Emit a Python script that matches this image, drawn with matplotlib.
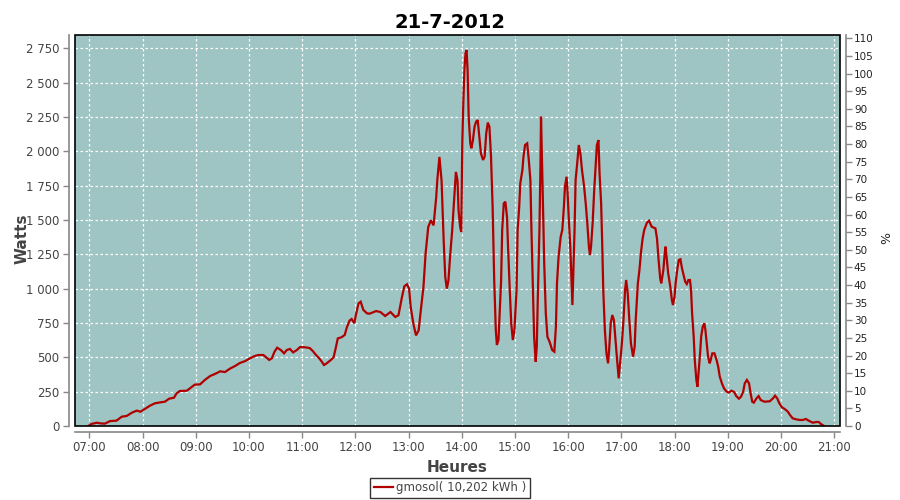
import matplotlib
matplotlib.use("Agg")
import matplotlib.pyplot as plt
from matplotlib.ticker import FuncFormatter
from matplotlib.patches import Rectangle

title = "21-7-2012"
series_name = "gmosol( 10,202 kWh )"

# time in decimal hours, power in Watts
hours = [
    6.98, 7.04, 7.14, 7.21, 7.29, 7.39, 7.51, 7.61, 7.70, 7.80, 7.89, 7.96,
    8.05, 8.14, 8.23, 8.33, 8.42, 8.50, 8.59, 8.64, 8.70, 8.83, 8.89, 8.98,
    9.08, 9.17, 9.27, 9.36, 9.46, 9.55, 9.64, 9.74, 9.83, 9.93,
    10.02, 10.11, 10.18, 10.27, 10.33, 10.38, 10.43, 10.48, 10.53, 10.60,
    10.66, 10.71, 10.77, 10.83, 10.90, 10.96,
    11.05, 11.14, 11.20, 11.26, 11.32, 11.37, 11.41, 11.46, 11.54, 11.59,
    11.63, 11.67, 11.74, 11.80, 11.84, 11.89, 11.93, 11.98,
    12.01, 12.06, 12.10, 12.15, 12.22, 12.27, 12.39, 12.47, 12.56, 12.66,
    12.75, 12.81, 12.87, 12.92, 12.97,
    13.01, 13.04, 13.09, 13.14, 13.19, 13.23, 13.28, 13.32, 13.37, 13.42,
    13.47, 13.52, 13.54, 13.58, 13.62, 13.66, 13.69, 13.72, 13.75, 13.78,
    13.82, 13.86, 13.89, 13.92, 13.94, 13.97, 13.99,
    14.01, 14.03, 14.05, 14.07, 14.09, 14.11, 14.13, 14.16, 14.18, 14.21,
    14.24, 14.27, 14.30, 14.33, 14.36, 14.40, 14.43, 14.46, 14.49, 14.52,
    14.55, 14.58, 14.61, 14.64, 14.66, 14.69, 14.71, 14.74, 14.76, 14.79,
    14.82, 14.85, 14.87, 14.90, 14.93, 14.96, 14.99,
    15.03, 15.05, 15.08, 15.10, 15.14, 15.16, 15.19, 15.23, 15.26, 15.29,
    15.31, 15.34, 15.36, 15.39, 15.41, 15.43, 15.46, 15.48, 15.49, 15.51,
    15.53, 15.55, 15.58, 15.61, 15.65, 15.70, 15.74, 15.77, 15.79, 15.82,
    15.86, 15.89, 15.92, 15.94, 15.97, 15.99,
    16.01, 16.04, 16.06, 16.08, 16.09, 16.12, 16.14, 16.17, 16.20, 16.23,
    16.26, 16.30, 16.33, 16.36, 16.39, 16.41, 16.43, 16.46, 16.49, 16.52,
    16.54, 16.57, 16.59, 16.62, 16.64, 16.66, 16.69, 16.72, 16.75, 16.77,
    16.80, 16.83, 16.86, 16.89, 16.92, 16.95, 16.97,
    17.01, 17.04, 17.07, 17.09, 17.12, 17.15, 17.18, 17.22, 17.25, 17.27,
    17.31, 17.34, 17.37, 17.40, 17.43, 17.48, 17.52, 17.57, 17.64, 17.67,
    17.70, 17.73, 17.75, 17.79, 17.81, 17.83, 17.85, 17.88, 17.92, 17.95,
    17.97,
    18.00, 18.02, 18.05, 18.08, 18.11, 18.14, 18.17, 18.20, 18.23, 18.26,
    18.29, 18.31, 18.33, 18.36, 18.38, 18.41, 18.43, 18.45, 18.48, 18.50,
    18.53, 18.56, 18.58, 18.61, 18.63, 18.66, 18.68, 18.71, 18.75, 18.79,
    18.82, 18.85, 18.89, 18.93, 18.98,
    19.02, 19.07, 19.12, 19.16, 19.21, 19.25, 19.29, 19.32, 19.36, 19.40,
    19.43, 19.46, 19.49, 19.54, 19.58, 19.62, 19.69, 19.79, 19.85, 19.89,
    19.93, 19.97,
    20.02, 20.08, 20.13, 20.17, 20.22, 20.28, 20.35, 20.41, 20.47, 20.52,
    20.60, 20.66, 20.71, 20.75, 20.81,
]
watts = [
    0, 15, 24, 19, 17, 36, 39, 68, 73, 97, 112, 104,
    126, 148, 165, 172, 177, 199, 206, 238, 255, 257, 274, 301,
    303, 335, 364, 379, 398, 393, 417, 437, 459, 473,
    493, 510, 517, 517, 498, 481, 493, 541, 570, 553,
    529, 553, 561, 536, 553, 575,
    573, 568, 546, 517, 493, 468, 444, 456, 481, 500,
    566, 638, 646, 663, 718, 767, 779, 748,
    808, 893, 905, 845, 820, 818, 837, 830, 801, 830,
    794, 806, 927, 1017, 1032,
    1000, 867, 745, 660, 697, 842, 1012, 1255, 1449, 1498,
    1461, 1667, 1789, 1959, 1789, 1352, 1085, 1000, 1061, 1231,
    1425, 1667, 1850, 1789, 1570, 1449, 1413,
    2058, 2361, 2592, 2713, 2738, 2592, 2252, 2058, 2022, 2082,
    2179, 2216, 2228, 2107, 1985, 1937, 1961, 2131, 2209, 2179,
    1961, 1597, 1063, 699, 590, 626, 796, 1063, 1427, 1621,
    1633, 1524, 1306, 1014, 748, 626, 699,
    990, 1427, 1597, 1767, 1864, 1961, 2046, 2058, 1937, 1791,
    1427, 942, 650, 468, 578, 942, 1427, 1912, 2252, 1912,
    1549, 1184, 820, 650, 614, 553, 541, 723, 1039, 1233,
    1379, 1427, 1597, 1743, 1815, 1694,
    1524, 1306, 1087, 881, 1014, 1427, 1791, 1912, 2046, 1985,
    1864, 1743, 1621, 1476, 1306, 1245, 1306, 1476, 1718, 1912,
    2046, 2082, 1840, 1621, 1330, 990, 699, 529, 456, 553,
    748, 808, 772, 626, 481, 347, 432,
    602, 772, 990, 1063, 966, 772, 602, 505, 578, 772,
    1039, 1136, 1269, 1366, 1427, 1480, 1495, 1451, 1439, 1366,
    1209, 1075, 1039, 1136, 1233, 1306, 1233, 1112, 1015, 917,
    881,
    942, 1039, 1136, 1209, 1214, 1148, 1100, 1051, 1034, 1063,
    1063, 990, 820, 650, 481, 335, 286, 383, 529, 650,
    723, 748, 699, 578, 505, 456, 481, 529, 529, 481,
    432, 359, 311, 274, 250,
    243, 257, 248, 218, 199, 214, 250, 311, 335, 311,
    238, 177, 170, 201, 218, 189, 177, 180, 201, 221,
    201, 165,
    136, 121, 104, 80, 56, 49, 44, 44, 51, 39,
    24, 29, 29, 15, 0,
]

hour_ticks = list(range(7, 22))
watt_ticks = list(range(0, 2751, 250))
pct_ticks = list(range(0, 111, 5))

line_color = "#b00000"
bg_color = "#9fc4c4"
tick_color = "#444444"
axis_gray = "#888888"

fig = plt.figure(figsize=(9, 5), dpi=100)
ax = fig.add_axes([75 / 900, 1 - 426 / 500, 765 / 900, 391 / 500])
ax.set_facecolor(bg_color)

ax.plot(hours, watts, color=line_color, linewidth=1.6, label=series_name,
        solid_joinstyle="miter", zorder=3)

ax.set_xlim(6.73, 21.11)
ax.set_ylim(0, 2847)
ax.set_xticks(hour_ticks)
ax.xaxis.set_major_formatter(FuncFormatter(lambda v, p: "%02d:00" % int(round(v))))
ax.set_yticks(watt_ticks)
ax.yaxis.set_major_formatter(
    FuncFormatter(lambda v, p: "{:,}".format(int(v)).replace(",", " ")))

ax.grid(True, color="white", linestyle=(0, (2, 2)), linewidth=0.9)
ax.set_axisbelow(True)

for s in ["left", "bottom"]:
    ax.spines[s].set_position(("outward", 4))
    ax.spines[s].set_color(axis_gray)
    ax.spines[s].set_linewidth(1.2)
ax.spines["top"].set_visible(False)
ax.spines["right"].set_visible(False)
ax.add_patch(Rectangle((0, 0), 1, 1, transform=ax.transAxes, fill=False,
                       edgecolor="black", linewidth=1.2, zorder=5, clip_on=False))

ax.tick_params(axis="both", colors=axis_gray, labelcolor=tick_color,
               labelsize=8.5, length=4, width=1, pad=3)

ax.set_xlabel("Heures", fontsize=11, fontweight="bold", color="#444444")
ax.set_ylabel("Watts", fontsize=11, fontweight="bold", color="#444444")
ax.xaxis.set_label_coords(0.5, -0.087)
ax.yaxis.set_label_coords(-0.06, 0.48)

ax2 = ax.twinx()
ax2.set_ylim(0, 110.94)
ax2.set_yticks(pct_ticks)
for s in ["left", "bottom", "top"]:
    ax2.spines[s].set_visible(False)
ax2.spines["right"].set_position(("outward", 4))
ax2.spines["right"].set_color(axis_gray)
ax2.spines["right"].set_linewidth(1.2)
ax2.tick_params(axis="y", colors=axis_gray, labelcolor="#222222",
                labelsize=7.5, length=4, width=1, pad=2)
ax2.set_ylabel("%", fontsize=9, color="#222222")
ax2.yaxis.set_label_coords(1.053, 0.48)

fig.suptitle(title, fontsize=14, fontweight="bold", y=0.975)

leg = fig.legend(loc="center", bbox_to_anchor=(0.5, 1 - 488 / 500), fontsize=8.5,
                 frameon=True, fancybox=False, handlelength=1.6,
                 borderpad=0.3, handletextpad=0.3, borderaxespad=0)
leg.get_frame().set_edgecolor("black")
leg.get_frame().set_linewidth(1.0)
for t in leg.get_texts():
    t.set_color("#444444")

fig.savefig("out.png", dpi=100)
